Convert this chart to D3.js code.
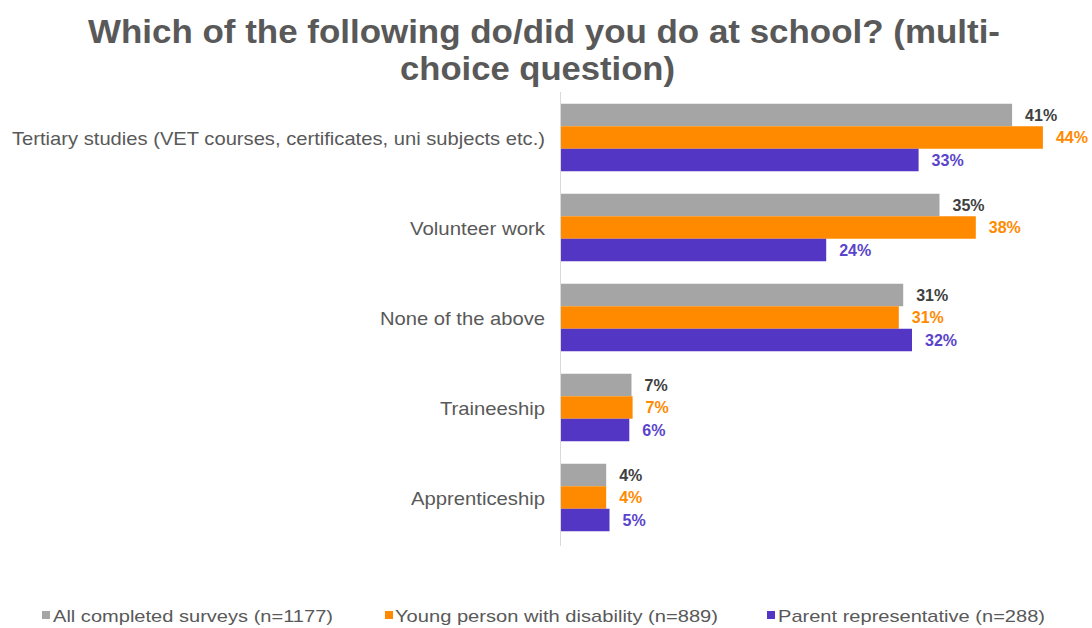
<!DOCTYPE html>
<html>
<head>
<meta charset="utf-8">
<script src="https://cdn.jsdelivr.net/npm/d3@7"></script>
<style>
  html, body { margin: 0; padding: 0; background: #fff; }
  svg { display: block; }
  text { font-family: "Liberation Sans", Arial, sans-serif; }
</style>
</head>
<body>
<svg id="chart" width="1092" height="628"></svg>
<script>
// ---- data ----
const categories = [
  "Tertiary studies (VET courses, certificates, uni subjects etc.)",
  "Volunteer work",
  "None of the above",
  "Traineeship",
  "Apprenticeship"
];
const seriesNames = [
  "All completed surveys (n=1177)",
  "Young person with disability (n=889)",
  "Parent representative (n=288)"
];
const allSurveys = [41.1, 34.5, 31.2, 6.5, 4.2];
const youngPerson = [43.9, 37.8, 30.8, 6.6, 4.2];
const parentRep = [32.6, 24.2, 32.0, 6.3, 4.5];
const titleLines = ["Which of the following do/did you do at school? (multi-", "choice question)"];

// ---- styles ----
const barColors = ["#A5A5A5", "#FF8A00", "#5336C3"];
const labelColors = ["#404040", "#FF8A00", "#5A44CC"];
const textColor = "#595959";

const seriesValues = [allSurveys, youngPerson, parentRep];
const svg = d3.select("#chart");

// Title
const titleSpecs = [
  { cx: 544, y: 43, len: 912 },
  { cx: 537.5, y: 80, len: 275 }
];
titleLines.forEach((t, i) => {
  svg.append("text")
    .attr("x", titleSpecs[i].cx)
    .attr("y", titleSpecs[i].y)
    .attr("text-anchor", "middle")
    .attr("font-size", 33)
    .attr("font-weight", "bold")
    .attr("fill", textColor)
    .attr("textLength", titleSpecs[i].len)
    .attr("lengthAdjust", "spacingAndGlyphs")
    .text(t);
});

// Scales
const x = d3.scaleLinear().domain([0, 50]).range([560, 1110]);
const y = d3.scaleBand().domain(categories).range([92.5, 542.5]).paddingInner(0.25).paddingOuter(0.125);
const yi = d3.scaleBand().domain(d3.range(seriesNames.length)).range([0, y.bandwidth()]);

// Axis line
svg.append("line")
  .attr("x1", x(0) + 0.5).attr("x2", x(0) + 0.5)
  .attr("y1", 92).attr("y2", 546)
  .attr("stroke", "#D9D9D9").attr("stroke-width", 1);

// Category labels
const catLens = [533, 135, 165, 105, 134];
svg.append("g").selectAll("text")
  .data(categories)
  .join("text")
  .attr("x", 545)
  .attr("y", d => y(d) + y.bandwidth() / 2 + 7)
  .attr("text-anchor", "end")
  .attr("font-size", 19)
  .attr("fill", textColor)
  .attr("textLength", (d, i) => catLens[i])
  .attr("lengthAdjust", "spacingAndGlyphs")
  .text(d => d);

// Bars and labels
const fmt = v => Math.round(v) + "%";
seriesValues.forEach((vals, s) => {
  const g = svg.append("g");
  g.selectAll("rect")
    .data(vals)
    .join("rect")
    .attr("x", x(0) + 1)
    .attr("y", (d, i) => y(categories[i]) + yi(s))
    .attr("width", d => x(d) - x(0) - 1)
    .attr("height", yi.bandwidth())
    .attr("fill", barColors[s]);
  g.selectAll("text")
    .data(vals)
    .join("text")
    .attr("x", d => x(d) + 13)
    .attr("y", (d, i) => y(categories[i]) + yi(s) + yi.bandwidth() / 2 + 5.5)
    .attr("font-size", 16)
    .attr("font-weight", "bold")
    .attr("fill", labelColors[s])
    .text(d => fmt(d));
});

// Legend
const legendSpecs = [
  { mx: 42, tx: 53, len: 280 },
  { mx: 385, tx: 395, len: 323 },
  { mx: 767, tx: 778, len: 267 }
];
const legend = svg.append("g");
seriesNames.forEach((n, i) => {
  legend.append("rect")
    .attr("x", legendSpecs[i].mx).attr("y", 611)
    .attr("width", 8).attr("height", 8)
    .attr("fill", barColors[i]);
  legend.append("text")
    .attr("x", legendSpecs[i].tx).attr("y", 622)
    .attr("font-size", 17)
    .attr("fill", textColor)
    .attr("textLength", legendSpecs[i].len)
    .attr("lengthAdjust", "spacingAndGlyphs")
    .text(n);
});
</script>
</body>
</html>
